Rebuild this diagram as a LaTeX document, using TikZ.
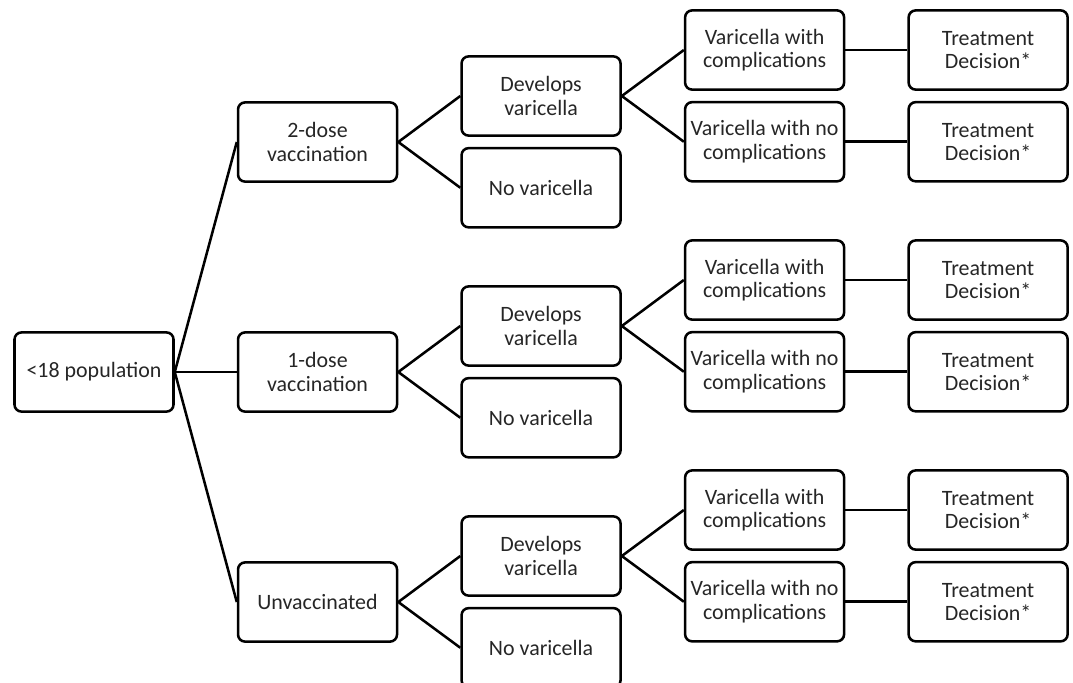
\documentclass[tikz,border=0pt]{standalone}
\usepackage{fontspec}
\setmainfont{Carlito}
\usetikzlibrary{positioning}

\begin{document}
\begin{tikzpicture}[
node distance=2.5mm and 15.5mm,
box/.style={draw,rounded corners=5pt,line width=1.8pt,align=center,minimum width=39.75mm,minimum height=19.8mm,inner xsep=1pt,font=\fontsize{15.6}{16.6}\selectfont,text=black!85},
link/.style={line width=1.8pt}]
\useasboundingbox (0,0) rectangle (26.825,-17.05);
\node[box] (root) at (2.35,-9.3) {<18 population};
% vaccination arms
\node[box,right=of root,yshift=57.5mm] (v2) {2-dose\\vaccination};
\node[box,right=of root] (v1) {1-dose\\vaccination};
\node[box,right=of root,yshift=-57.5mm] (v0) {Unvaccinated};
% varicella or not
\node[box,right=of v2,yshift=11.5mm] (dev2) {Develops\\varicella};
\node[box,below=of dev2] (nov2) {No varicella};
\node[box,right=of v1,yshift=11.5mm] (dev1) {Develops\\varicella};
\node[box,below=of dev1] (nov1) {No varicella};
\node[box,right=of v0,yshift=11.5mm] (dev0) {Develops\\varicella};
\node[box,below=of dev0] (nov0) {No varicella};
% complications
\node[box,right=of dev2,yshift=11.5mm] (comp2) {Varicella with\\complications};
\node[box,below=of comp2] (ncomp2) {Varicella with no\\complications};
\node[box,right=of dev1,yshift=11.5mm] (comp1) {Varicella with\\complications};
\node[box,below=of comp1] (ncomp1) {Varicella with no\\complications};
\node[box,right=of dev0,yshift=11.5mm] (comp0) {Varicella with\\complications};
\node[box,below=of comp0] (ncomp0) {Varicella with no\\complications};
% treatment
\node[box,right=of comp2] (tc2) {Treatment\\Decision*};
\node[box,right=of ncomp2] (tn2) {Treatment\\Decision*};
\node[box,right=of comp1] (tc1) {Treatment\\Decision*};
\node[box,right=of ncomp1] (tn1) {Treatment\\Decision*};
\node[box,right=of comp0] (tc0) {Treatment\\Decision*};
\node[box,right=of ncomp0] (tn0) {Treatment\\Decision*};
\draw[link] (root.east)--(v2.west); \draw[link] (root.east)--(v1.west); \draw[link] (root.east)--(v0.west);
\draw[link] (v2.east)--(dev2.west); \draw[link] (v2.east)--(nov2.west);
\draw[link] (v1.east)--(dev1.west); \draw[link] (v1.east)--(nov1.west);
\draw[link] (v0.east)--(dev0.west); \draw[link] (v0.east)--(nov0.west);
\draw[link] (dev2.east)--(comp2.west); \draw[link] (dev2.east)--(ncomp2.west);
\draw[link] (dev1.east)--(comp1.west); \draw[link] (dev1.east)--(ncomp1.west);
\draw[link] (dev0.east)--(comp0.west); \draw[link] (dev0.east)--(ncomp0.west);
\draw[link] (comp2)--(tc2); \draw[link] (ncomp2)--(tn2);
\draw[link] (comp1)--(tc1); \draw[link] (ncomp1)--(tn1);
\draw[link] (comp0)--(tc0); \draw[link] (ncomp0)--(tn0);
\end{tikzpicture}
\end{document}
